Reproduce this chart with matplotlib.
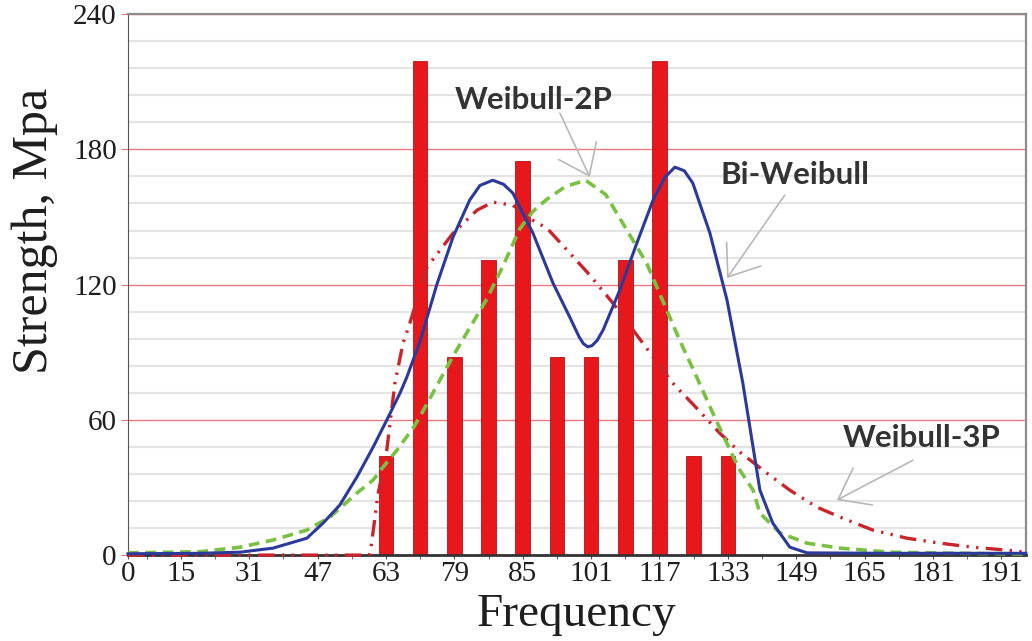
import numpy as np
import matplotlib.pyplot as plt

# Гістограма (частоти) та три апроксимуючі криві
bar_freq = [63, 71, 79, 87, 95, 103, 111, 119, 127, 135, 143]
bar_strength = [44, 219, 88, 131, 175, 88, 88, 131, 219, 44, 44]

# Bi-Weibull (синя суцільна)
bi_x = [2.65, 19.5, 28.9, 36.6, 44.5, 48.3, 52.2, 56.2, 60.0, 63.2, 66.3, 67.9,
        71.0, 74.9, 78.7, 82.6, 85.0, 88.0, 90.5, 92.7, 94.3, 97.4, 102.1, 106.0,
        108.2, 109.2, 110.2, 111.2, 112.4, 113.8, 117.7, 121.7, 125.5, 128.2, 130.6,
        132.8, 134.8, 138.8, 142.8, 146.5, 150.5, 153.5, 157.5, 161.5, 180.0, 212.7]
bi_y = [0.6, 0.8, 1.3, 3.1, 7.5, 14.2, 22.2, 34.6, 47.9, 59.9, 71.9, 79.0,
        95.0, 120.0, 141.1, 157.5, 164.0, 166.3, 164.5, 160.6, 154.4, 142.8, 120.6, 105.6,
        96.8, 93.8, 92.4, 92.9, 95.2, 99.8, 117.5, 138.4, 157.5, 167.5, 172.1,
        170.5, 165.0, 142.8, 113.1, 76.3, 28.8, 14.2, 3.5, 1.0, 0.8, 0.8]

# Weibull-2P (зелена пунктирна)
w2_x = [2.65, 19.5, 28.9, 36.6, 44.5, 49.9, 56.2, 60.0, 62.4, 65.6, 69.5, 71.0,
        78.7, 86.6, 90.4, 94.3, 97.4, 100.4, 105.0, 109.7, 114.4, 119.1,
        124.0, 127.7, 131.7, 135.7, 139.5, 143.5, 145.8, 148.9, 150.5, 155.2,
        161.5, 169.2, 180.9, 192.6, 212.7]
w2_y = [1.0, 1.5, 3.5, 6.7, 11.1, 16.9, 27.5, 33.3, 39.2, 46.6, 56.8, 61.6,
        88.3, 113.6, 128.3, 144.7, 152.5, 157.5, 163.5, 166.3, 160.0, 145.0,
        129.5, 113.1, 95.4, 79.0, 62.9, 46.6, 37.7, 28.8, 18.6, 9.8,
        5.3, 3.1, 1.3, 0.9, 0.5]

# Weibull-3P (червона штрих-пунктирна)
w3_x = [2.65, 58.8, 59.3, 60.2, 61.1, 62.3, 63.2, 65.1, 67.0, 68.6, 72.6, 78.7,
        84.3, 88.0, 92.7, 97.4, 100.7, 106.0, 110.7, 116.1, 121.7, 130.1, 135.7,
        141.1, 145.8, 152.1, 157.5, 163.8, 169.2, 176.9, 184.9, 192.6, 200.3,
        208.3, 212.7]
w3_y = [0.0, 0.0, 0.5, 13.3, 26.6, 37.7, 46.6, 76.3, 94.0, 102.9, 127.7, 142.8,
        153.0, 156.6, 155.2, 148.5, 145.0, 134.0, 124.2, 111.8, 97.6, 76.3, 65.2,
        54.1, 45.7, 36.4, 28.8, 21.3, 16.9, 11.1, 7.5, 5.3, 3.5,
        2.2, 1.3]

x_tick_labels = ["0", "15", "31", "47", "63", "79", "85", "101", "117",
                 "133", "149", "165", "181", "191"]
y_ticks = [0, 60, 120, 180, 240]

x_min, x_max = 2.65, 212.7

fig, ax = plt.subplots(figsize=(10.32, 6.41), dpi=100)
fig.subplots_adjust(left=0.124, right=0.994, bottom=0.134, top=0.978)

ax.set_xlim(x_min, x_max)
ax.set_ylim(0, 240)

# сітка: основні лінії червоні, допоміжні світло-сірі
ax.set_yticks(y_ticks)
ax.set_yticks(np.arange(0, 241, 12), minor=True)
ax.yaxis.grid(True, which="minor", color="#e4e4e4", linewidth=1.6)
ax.yaxis.grid(True, which="major", color="#e77a7e", linewidth=1.0)
ax.set_axisbelow(True)

ax.bar(bar_freq, bar_strength, width=3.4, color="#e8171c",
       edgecolor="#b31217", linewidth=0.6, zorder=2)

ax.plot(w3_x, w3_y, color="#c8242b", linewidth=2.4,
        dashes=(5, 2.2, 0.7, 2.2, 0.7, 2.2), zorder=3, clip_on=False)
ax.plot(w2_x, w2_y, color="#7ac143", linewidth=2.6,
        dashes=(3, 1.8), zorder=4, clip_on=False)
ax.plot(bi_x, bi_y, color="#2b3a9a", linewidth=2.2, zorder=5, clip_on=False)

# підписи осі X
ax.set_xticks([x_min] + list(range(15, 208, 16)))
ax.set_xticklabels(x_tick_labels)
ax.set_xticks(np.arange(7, 212, 8), minor=True)

for lab in ax.get_xticklabels() + ax.get_yticklabels():
    lab.set_fontfamily("Liberation Serif")
    lab.set_fontsize(21)
    lab.set_color("#1e1e1e")
ax.tick_params(axis="x", which="both", length=3, color="#555555", pad=1)
ax.tick_params(axis="y", which="major", length=5, color="#e77a7e", pad=3)
ax.tick_params(axis="y", which="minor", length=0)

ax.set_xlabel("Frequency", fontfamily="Liberation Serif", fontsize=34,
              color="#1e1e1e", labelpad=5)
ax.set_ylabel("Strength, Mpa", fontfamily="Liberation Serif", fontsize=36,
              color="#1e1e1e")
ax.yaxis.set_label_coords(-0.078, 0.60)

for side in ["top", "right"]:
    ax.spines[side].set_color("#8c8c8c")
    ax.spines[side].set_linewidth(1.6)
ax.spines["left"].set_color("#555555")
ax.spines["bottom"].set_color("#333333")
ax.spines["bottom"].set_linewidth(2)

# підписи кривих зі стрілками
ann_font = dict(family="Lato", weight="bold", size=22.5, color="#333333",
                ha="center", va="center")
arrow = dict(arrowstyle="->, head_length=2.0, head_width=1.5",
             color="#b8b8b8", lw=1.2, mutation_scale=10,
             shrinkA=0, shrinkB=0)

ax.text(97.6, 201.8, "Weibull-2P", **ann_font)
ax.annotate("", xy=(110.7, 167.7), xytext=(103.7, 196.1), arrowprops=arrow)

ax.text(158.7, 168.6, "Bi-Weibull", **ann_font)
ax.annotate("", xy=(142.8, 122.9), xytext=(156.3, 159.7), arrowprops=arrow)

ax.text(188.4, 51.9, "Weibull-3P", **ann_font)
ax.annotate("", xy=(168.5, 24.4), xytext=(186.3, 42.1), arrowprops=arrow)

plt.savefig("out.png", dpi=100)
